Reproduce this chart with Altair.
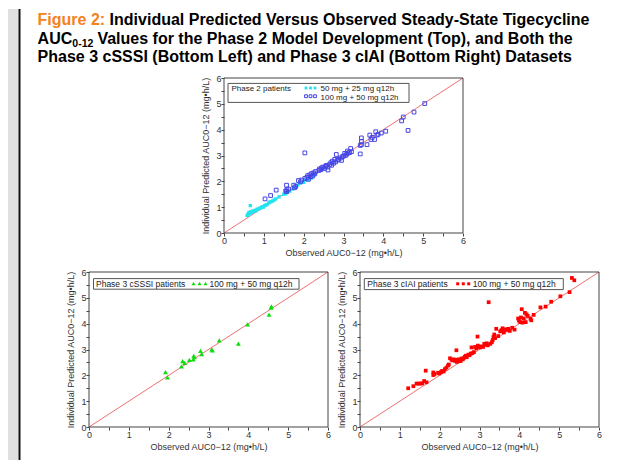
import altair as alt
import pandas as pd

# ---------------- text ----------------
TITLE_FIG = "Figure 2:"
TITLE_L1 = "Individual Predicted Versus Observed Steady-State Tigecycline"
TITLE_L2A = "AUC"
TITLE_L2SUB = "0-12"
TITLE_L2B = "Values for the Phase 2 Model Development (Top), and Both the"
TITLE_L3 = "Phase 3 cSSSI (Bottom Left) and Phase 3 cIAI (Bottom Right) Datasets"

X_TITLE = "Observed AUC0\u221212 (mg\u2022h/L)"
Y_TITLE = "Individual Predicted AUC0\u221212 (mg\u2022h/L)"

LEG_TOP_TITLE = "Phase 2 patients"
LEG_TOP_A = "50 mg + 25 mg q12h"
LEG_TOP_B = "100 mg + 50 mg q12h"
LEG_BL_TITLE = "Phase 3 cSSSI patients"
LEG_BL = "100 mg + 50 mg q12h"
LEG_BR_TITLE = "Phase 3 cIAI patients"
LEG_BR = "100 mg + 50 mg q12h"

TICKS = [0, 0.5, 1, 1.5, 2, 2.5, 3, 3.5, 4, 4.5, 5, 5.5, 6]
AXIS_DOMAIN = [0, 6]
IDENTITY = [0, 6]

# ---------------- data (observed, predicted) ----------------
p2_low = [(0.58, 0.68), (0.60, 0.72), (0.62, 0.76), (0.63, 0.80), (0.65, 0.74), (0.66, 1.06),
          (0.68, 0.82), (0.70, 0.79), (0.72, 0.85), (0.75, 0.84), (0.78, 0.88), (0.80, 0.86),
          (0.83, 0.92), (0.87, 0.93), (0.90, 0.96), (0.93, 0.98), (0.96, 1.02), (0.99, 1.00),
          (1.02, 1.06), (1.05, 1.08), (1.08, 1.10), (1.12, 1.16), (1.15, 1.20), (1.18, 1.21),
          (1.22, 1.24), (1.26, 1.28), (1.30, 1.32), (1.38, 1.40), (1.50, 1.50), (1.55, 1.52),
          (1.60, 1.58), (1.65, 1.62), (1.72, 1.70), (1.78, 1.76), (1.85, 1.86), (1.92, 1.94),
          (2.00, 1.96), (2.05, 2.05), (2.10, 2.06), (2.15, 2.10), (2.20, 2.13), (2.25, 2.20),
          (2.30, 2.27), (2.48, 2.46)]

p2_high = [(1.03, 1.32), (1.17, 1.45), (1.31, 1.66), (1.55, 1.63), (1.57, 1.60), (1.58, 1.68),
           (1.57, 1.85), (1.62, 1.70), (1.75, 1.85), (1.77, 1.75), (1.80, 1.80), (1.87, 2.03),
           (1.92, 1.98), (1.95, 2.05), (2.03, 2.11), (2.03, 3.10), (2.08, 2.15), (2.10, 2.22),
           (2.12, 2.08), (2.15, 2.25), (2.17, 2.18), (2.20, 2.30), (2.22, 2.20), (2.25, 2.33),
           (2.27, 2.28), (2.30, 2.38), (2.38, 2.42), (2.40, 2.48), (2.43, 2.45), (2.45, 2.52),
           (2.48, 2.55), (2.52, 2.50), (2.55, 2.58), (2.57, 2.62), (2.60, 2.55), (2.61, 2.44),
           (2.65, 2.65), (2.68, 2.72), (2.70, 2.62), (2.72, 2.78), (2.75, 2.70), (2.78, 2.85),
           (2.80, 2.75), (2.82, 3.04), (2.85, 2.82), (2.88, 2.85), (2.92, 2.90), (2.95, 2.81),
           (2.97, 2.95), (3.00, 2.98), (3.03, 3.08), (3.05, 3.00), (3.08, 3.05), (3.10, 3.17),
           (3.12, 3.10), (3.15, 3.11), (3.18, 3.27), (3.20, 3.15), (3.42, 3.06), (3.42, 3.39),
           (3.45, 3.42), (3.45, 3.55), (3.45, 3.68), (3.59, 3.42), (3.66, 3.79), (3.69, 3.62),
           (3.72, 3.70), (3.78, 3.62), (3.81, 3.92), (3.84, 3.79), (3.87, 3.82), (3.95, 3.87),
           (4.06, 3.94), (4.46, 4.34), (4.50, 4.49), (4.62, 3.97), (4.77, 4.68), (5.04, 5.01)]

cssi = [(1.92, 2.12), (1.97, 1.92), (2.32, 2.35), (2.35, 2.55), (2.40, 2.48), (2.52, 2.60),
        (2.62, 2.62), (2.63, 2.75), (2.65, 2.70), (2.80, 2.95), (2.83, 2.82), (3.08, 3.00),
        (3.10, 2.97), (3.27, 3.35), (3.75, 3.23), (3.98, 3.97), (4.52, 4.35), (4.57, 4.62),
        (4.58, 4.67)]

ciai = [(1.21, 1.50), (1.34, 1.58), (1.42, 1.68), (1.47, 1.68), (1.52, 1.68), (1.56, 1.69),
        (1.61, 1.78), (1.65, 2.18), (1.67, 1.73), (1.84, 2.01), (1.84, 2.11), (1.87, 2.05),
        (1.96, 2.10), (1.99, 2.07), (2.03, 2.12), (2.06, 2.17), (2.10, 2.15), (2.13, 2.24),
        (2.17, 2.30), (2.21, 2.38), (2.23, 2.42), (2.26, 2.66), (2.30, 2.60), (2.33, 2.58),
        (2.35, 2.62), (2.38, 2.56), (2.40, 2.60), (2.42, 2.97), (2.43, 2.52), (2.46, 2.58),
        (2.48, 2.62), (2.50, 2.55), (2.53, 2.56), (2.55, 2.65), (2.58, 2.62), (2.60, 2.66),
        (2.63, 2.72), (2.66, 2.76), (2.68, 2.70), (2.72, 2.80), (2.75, 2.78), (2.78, 2.84),
        (2.80, 3.08), (2.82, 2.86), (2.86, 2.90), (2.89, 3.10), (2.92, 3.04), (2.95, 3.50),
        (2.96, 3.15), (2.99, 3.10), (3.02, 3.08), (3.06, 3.12), (3.09, 3.10), (3.12, 3.22),
        (3.15, 3.18), (3.18, 3.24), (3.21, 3.16), (3.23, 4.83), (3.27, 3.22), (3.31, 3.28),
        (3.33, 3.36), (3.35, 3.48), (3.37, 3.58), (3.39, 3.44), (3.42, 3.80), (3.47, 3.52),
        (3.52, 3.70), (3.55, 3.75), (3.58, 3.82), (3.61, 3.66), (3.64, 3.78), (3.68, 3.76),
        (3.72, 3.80), (3.76, 3.72), (3.82, 3.84), (3.88, 3.77), (3.97, 4.20), (3.99, 4.12),
        (4.02, 4.06), (4.04, 4.24), (4.06, 4.56), (4.08, 4.04), (4.11, 4.20), (4.14, 4.42),
        (4.16, 4.06), (4.18, 4.36), (4.21, 4.30), (4.28, 4.19), (4.30, 4.13), (4.36, 4.34),
        (4.53, 4.63), (4.66, 4.66), (4.80, 4.85), (5.03, 5.06), (5.26, 5.22), (5.32, 5.77),
        (5.38, 5.68)]


def frame(pairs):
    return pd.DataFrame({"obs": [p[0] for p in pairs], "pred": [p[1] for p in pairs]})


ONE = pd.DataFrame({"k": [0]})
DIAG = pd.DataFrame({"obs": IDENTITY, "pred": IDENTITY})

FONT = "Liberation Sans"
LABEL_EXPR = "datum.value % 1 === 0 ? format(datum.value, 'd') : ''"

# panel geometry (pixels in the layer's coordinate system)
TOP = dict(x0=135, x1=374, y0=0, y1=155)
BL = dict(x0=0, x1=239, y0=194, y1=349)
BR = dict(x0=271, x1=510, y0=194, y1=349)
W, H = 510, 349


def encodings(g):
    ax_common = dict(values=TICKS, labelExpr=LABEL_EXPR, grid=False, domain=False,
                     tickColor="#444", tickSize=3, tickWidth=1, labelFont=FONT, labelFontSize=9,
                     labelColor="#333", labelPadding=0, labelFlush=False, labelOverlap=False,
                     titleFont=FONT, titleFontSize=9, titleFontWeight="normal", titleColor="#333")
    x = alt.X("obs:Q",
              scale=alt.Scale(domain=AXIS_DOMAIN, range=[g["x0"], g["x1"]], nice=False, zero=False),
              axis=alt.Axis(orient="bottom", offset=g["y1"] - H, title=X_TITLE, titlePadding=3,
                            **ax_common))
    y = alt.Y("pred:Q",
              scale=alt.Scale(domain=AXIS_DOMAIN, range=[g["y1"], g["y0"]], nice=False, zero=False),
              axis=alt.Axis(orient="left", offset=-g["x0"], title=Y_TITLE, titlePadding=5,
                            **ax_common))
    return x, y


def panel(g, series):
    x, y = encodings(g)
    layers = [alt.Chart(DIAG).mark_line(color="#ef7070", strokeWidth=1).encode(x=x, y=y)]
    for data, mk in series:
        layers.append(alt.Chart(frame(data)).mark_point(**mk).encode(x=x, y=y))
    return alt.layer(*layers)


def txt(s, x, y, size=8.5, weight="normal", color="#222"):
    return alt.Chart(ONE).mark_text(align="left", baseline="alphabetic", font=FONT,
                                    fontSize=size, fontWeight=weight, color=color).encode(
        x=alt.value(x), y=alt.value(y), text=alt.value(s))


def box(x0, x1, y0, y1, fill="white", stroke="#555", sw=1):
    return alt.Chart(ONE).mark_rect(fill=fill, stroke=stroke, strokeWidth=sw).encode(
        x=alt.value(x0), x2=alt.value(x1), y=alt.value(y0), y2=alt.value(y1))


def outline(g):
    return alt.Chart(ONE).mark_rect(fillOpacity=0, stroke="#444", strokeWidth=1).encode(
        x=alt.value(g["x0"]), x2=alt.value(g["x1"]), y=alt.value(g["y0"]), y2=alt.value(g["y1"]))


def sym(x, y, mk):
    return alt.Chart(ONE).mark_point(**mk).encode(x=alt.value(x), y=alt.value(y))


CYAN = dict(shape="square", filled=True, size=11, color="#22e4f0", opacity=1)
BLUE = dict(shape="square", filled=False, size=14, color="#4646e8", strokeWidth=1, opacity=1)
GREEN = dict(shape="triangle-up", filled=True, size=24, color="#10dd10", opacity=1)
RED = dict(shape="square", filled=True, size=14, color="#ff0000", opacity=1)

top_panel = panel(TOP, [(p2_low, CYAN), (p2_high, BLUE)])
bl_panel = panel(BL, [(cssi, GREEN)])
br_panel = panel(BR, [(ciai, RED)])

decor = []
# left gray strip and black rule
decor.append(box(-81, -70.5, -69, 382, fill="#e0e0e0", stroke="#e0e0e0", sw=0))
decor.append(alt.Chart(ONE).mark_rule(color="#111", strokeWidth=2).encode(
    x=alt.value(-69.5), y=alt.value(-69), y2=alt.value(382)))

# title
decor.append(txt(TITLE_FIG, -51.4, -53, 16, "bold", "#f58220"))
decor.append(txt(TITLE_L1, 20.6, -53, 16, "bold", "#000"))
decor.append(txt(TITLE_L2A, -51.4, -34.5, 16, "bold", "#000"))
decor.append(txt(TITLE_L2SUB, -16.7, -31, 10.5, "bold", "#000"))
decor.append(txt(TITLE_L2B, 8.4, -34.5, 16, "bold", "#000"))
decor.append(txt(TITLE_L3, -51.4, -16, 16, "bold", "#000"))

# frames
for g in (TOP, BL, BR):
    decor.append(outline(g))

# top legend
decor.append(box(139, 320, 5.4, 24.4))
decor.append(txt(LEG_TOP_TITLE, 142.4, 13.4, 8))
for dx in (82, 86.5, 91):
    decor.append(sym(TOP["x0"] + dx, 10, dict(CYAN, size=8)))
    decor.append(sym(TOP["x0"] + dx, 18.2, dict(BLUE, size=8)))
decor.append(txt(LEG_TOP_A, TOP["x0"] + 96.5, 13.4, 8))
decor.append(txt(LEG_TOP_B, TOP["x0"] + 96.5, 21.8, 8))

# bottom-left legend
decor.append(box(4.5, 210, 200.6, 211.2))
decor.append(txt(LEG_BL_TITLE, 7, 209))
for dx in (104.5, 110.5, 116.5):
    decor.append(sym(dx, 205.6, dict(GREEN, size=16)))
decor.append(txt(LEG_BL, 120.5, 209))

# bottom-right legend
decor.append(box(275.3, 474.3, 200.6, 211.6))
decor.append(txt(LEG_BR_TITLE, 278.3, 209))
for dx in (368.7, 374.3, 379.7):
    decor.append(sym(dx, 205.8, dict(RED, size=9)))
decor.append(txt(LEG_BR, 383.7, 209))

chart = alt.layer(top_panel, bl_panel, br_panel, *decor).resolve_scale(
    x="independent", y="independent").resolve_axis(
    x="independent", y="independent").properties(
    width=W, height=H, padding=0, background="white").configure_view(stroke=None)

chart.save("out.html", embed_options={"renderer": "svg", "actions": False})
